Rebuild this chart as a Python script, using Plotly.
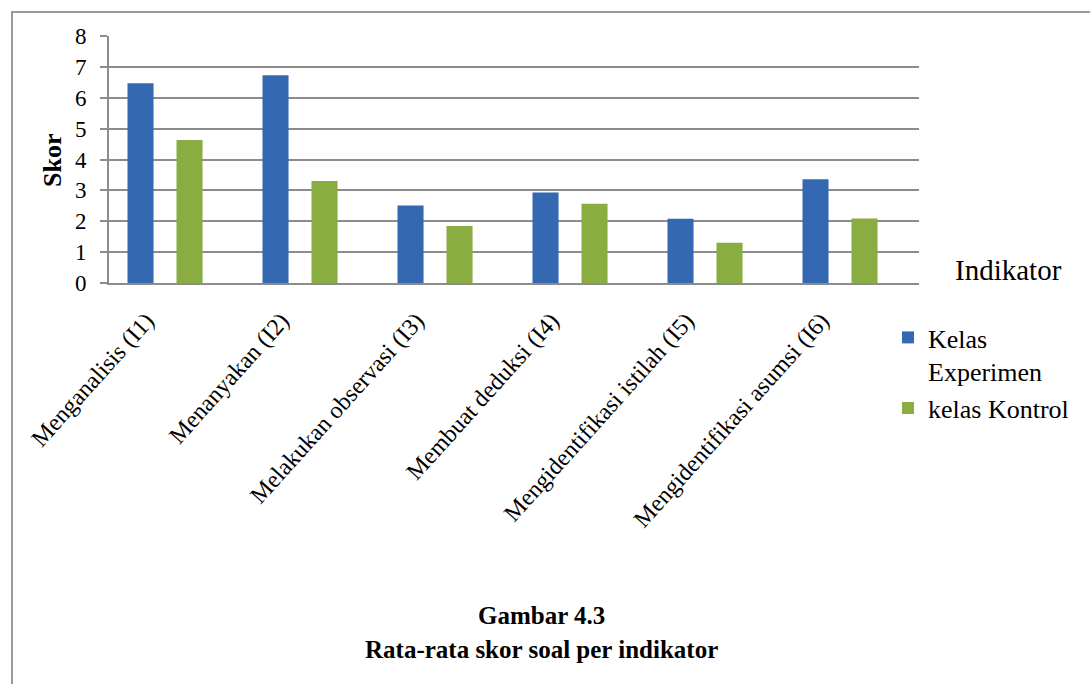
import plotly.graph_objects as go

# ---- data ----
categories = [
    "Menganalisis (I1)",
    "Menanyakan (I2)",
    "Melakukan observasi (I3)",
    "Membuat deduksi (I4)",
    "Mengidentifikasi istilah (I5)",
    "Mengidentifikasi asumsi (I6)",
]
kelas_experimen = [6.47, 6.73, 2.51, 2.93, 2.08, 3.36]
kelas_kontrol = [4.63, 3.30, 1.85, 2.57, 1.30, 2.09]
y_ticks = [0, 1, 2, 3, 4, 5, 6, 7, 8]
series_names = ["Kelas<br>Experimen", "kelas Kontrol"]

# ---- layout geometry ----
W, H = 1090, 684
L, R, T, B = 109, 171, 36, 401
PW, PH = W - L - R, H - T - B
FONT = "Liberation Serif"
GRID = "#8c8c8c"


def px_x(px):
    return (px - L) / PW


def px_y(py):
    return (H - B - py) / PH


fig = go.Figure()
fig.add_trace(go.Bar(
    x=categories, y=kelas_experimen, name=series_names[0],
    legendgroup="exp",
    marker=dict(color="#3469B2", line=dict(width=0)),
    width=0.193, offset=-0.363,
))
fig.add_trace(go.Bar(
    x=categories, y=kelas_kontrol, name=series_names[1],
    legendgroup="kon",
    marker=dict(color="#8AAD42", line=dict(width=0)),
    width=0.193, offset=0.0,
))

fig.update_layout(
    width=W, height=H, autosize=False,
    margin=dict(l=L, r=R, t=T, b=B, pad=0),
    paper_bgcolor="white", plot_bgcolor="white",
    font=dict(family=FONT, color="black"),
    barmode="group",
    showlegend=True,
    legend=dict(
        x=px_x(888), y=px_y(314), xanchor="left", yanchor="top",
        font=dict(family=FONT, size=26, color="black"),
        bgcolor="rgba(0,0,0,0)", valign="top", traceorder="normal",
        tracegroupgap=5, itemwidth=30,
    ),
)

fig.update_xaxes(
    type="category", range=[-0.5, 5.5],
    showline=True, linecolor=GRID, linewidth=2,
    showgrid=False, ticks="", tickangle=-48,
    ticklabelshift=-30, ticklabelstandoff=12,
    tickfont=dict(family=FONT, size=24, color="black"),
)
fig.update_yaxes(
    range=[0, 8], tickvals=y_ticks, ticktext=[str(v) for v in y_ticks],
    showgrid=True, gridcolor=GRID, gridwidth=2,
    showline=True, linecolor=GRID, linewidth=2, zeroline=False,
    ticks="outside", ticklen=7, tickcolor=GRID, tickwidth=2,
    ticklabelstandoff=9,
    tickfont=dict(family=FONT, size=23, color="black"),
)

# outer frame of the figure box
fig.add_shape(
    type="rect", xref="paper", yref="paper",
    x0=px_x(12), y0=px_y(900), x1=px_x(1200), y1=px_y(12),
    line=dict(color="#9a9a9a", width=2), fillcolor="rgba(0,0,0,0)",
    layer="below",
)

fig.add_annotation(
    text="<b>Skor</b>", xref="paper", yref="paper",
    x=px_x(52), y=px_y(160), textangle=-90, showarrow=False,
    xanchor="center", yanchor="middle",
    font=dict(family=FONT, size=26, color="black"),
)
fig.add_annotation(
    text="Indikator", xref="paper", yref="paper",
    x=px_x(1008), y=px_y(270), showarrow=False,
    xanchor="center", yanchor="middle",
    font=dict(family=FONT, size=29, color="black"),
)
fig.add_annotation(
    text="<b>Gambar 4.3</b>", xref="paper", yref="paper",
    x=px_x(541), y=px_y(615), showarrow=False,
    xanchor="center", yanchor="middle",
    font=dict(family=FONT, size=25, color="black"),
)
fig.add_annotation(
    text="<b>Rata-rata skor soal per indikator</b>", xref="paper", yref="paper",
    x=px_x(541), y=px_y(649), showarrow=False,
    xanchor="center", yanchor="middle",
    font=dict(family=FONT, size=25, color="black"),
)

fig.write_html("out.html")
